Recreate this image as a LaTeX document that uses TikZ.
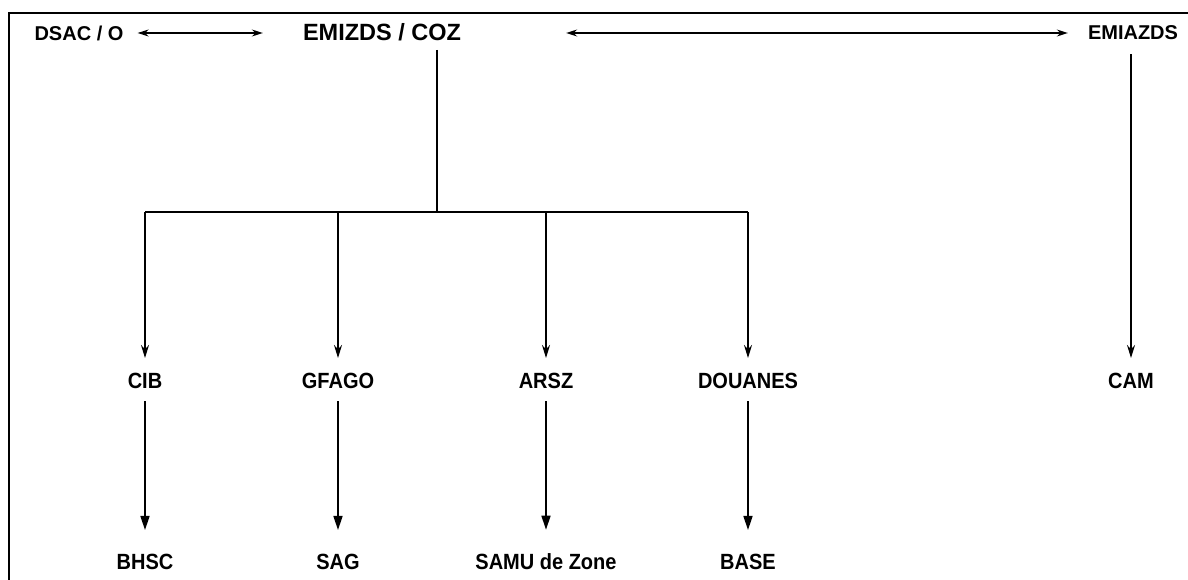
\documentclass[tikz,border=0pt]{standalone}
\usepackage{fontspec}
\setmainfont{Liberation Sans}
\usetikzlibrary{arrows.meta}
\begin{document}
\begin{tikzpicture}[x=1pt,y=-1pt,
  lbl/.style={font=\bfseries\fontsize{20}{20}\selectfont, inner sep=0pt, yscale=1.1},
  toplbl/.style={font=\bfseries\fontsize{20}{20}\selectfont, inner sep=0pt},
  mainlbl/.style={font=\bfseries\fontsize{23.5}{23.5}\selectfont, inner sep=0pt},
  wire/.style={line width=1.8pt},
  harrow/.style={line width=1.4pt, {Stealth[length=11pt,width=7pt]}-{Stealth[length=11pt,width=7pt]}},
  varrow/.style={line width=1.6pt, -{Stealth[length=13pt,width=8pt]}},
  barrow/.style={line width=1.6pt, -{Triangle[length=14pt,width=9pt]}},
  frame/.style={line width=1.5pt}
]
\useasboundingbox (0,0) rectangle (1188,580);
\draw[frame] (9,580) -- (9,13) -- (1188,13);

\node[toplbl] (dsac) at (79,33) {DSAC / O};
\node[mainlbl] (emizds) at (382,32) {EMIZDS / COZ};
\node[toplbl] (emiazds) at (1133,33) {EMIAZDS};

\node[lbl] (cib) at (145,381) {CIB};
\node[lbl] (gfago) at (338,381) {GFAGO};
\node[lbl] (arsz) at (546,381) {ARSZ};
\node[lbl] (douanes) at (748,381) {DOUANES};
\node[lbl] (cam) at (1131,381) {CAM};

\node[lbl] (bhsc) at (145,562) {BHSC};
\node[lbl] (sag) at (338,562) {SAG};
\node[lbl] (samu) at (546,562) {SAMU de Zone};
\node[lbl] (base) at (748,562) {BASE};

\draw[harrow, shorten <=14pt, shorten >=40pt] (dsac.east) -- (emizds.west |- dsac.east);
\draw[harrow, shorten <=105pt, shorten >=20pt] (emizds.east |- emiazds.west) -- (emiazds.west);

\coordinate (hub) at (437,212);
\coordinate (bl) at (145,212);
\coordinate (br) at (748,212);
\coordinate (bg) at (338,212);
\coordinate (ba) at (546,212);
\coordinate (etop) at (437,50);
\draw[wire] (etop) -- (hub);
\draw[wire] (bl) -- (br);

\draw[varrow, shorten >=15pt] (bl) -- (cib.north);
\draw[varrow, shorten >=15pt] (bg) -- (gfago.north);
\draw[varrow, shorten >=15pt] (ba) -- (arsz.north);
\draw[varrow, shorten >=15pt] (br) -- (douanes.north);

\draw[varrow, shorten <=14pt, shorten >=15pt] (emiazds.south -| cam.north) -- (cam.north);

\draw[barrow, shorten <=12pt, shorten >=24pt] (cib.south) -- (bhsc.north);
\draw[barrow, shorten <=12pt, shorten >=24pt] (gfago.south) -- (sag.north);
\draw[barrow, shorten <=12pt, shorten >=24pt] (arsz.south) -- (samu.north);
\draw[barrow, shorten <=12pt, shorten >=24pt] (douanes.south) -- (base.north);
\end{tikzpicture}
\end{document}
